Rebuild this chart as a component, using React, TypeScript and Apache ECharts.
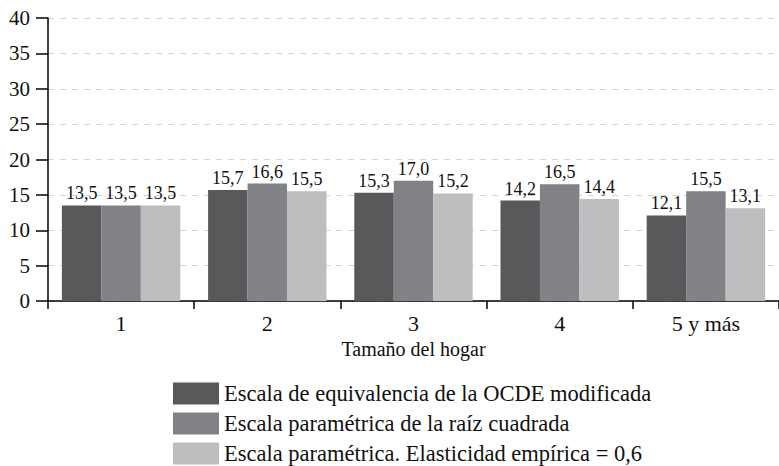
import React, { useEffect, useRef } from "react";
import * as echarts from "echarts";

const categories = ["1", "2", "3", "4", "5 y más"];
const seriesNames = [
  "Escala de equivalencia de la OCDE modificada",
  "Escala paramétrica de la raíz cuadrada",
  "Escala paramétrica. Elasticidad empírica = 0,6",
];
const ocde = [13.5, 15.7, 15.3, 14.2, 12.1];
const raiz = [13.5, 16.6, 17.0, 16.5, 15.5];
const elasticidad = [13.5, 15.5, 15.2, 14.4, 13.1];
const yTicks = [0, 5, 10, 15, 20, 25, 30, 35, 40];

const colors = ["#58595b", "#808285", "#bcbec0"];
const FONT = "'Liberation Serif', 'Times New Roman', Times, serif";

export default function App() {
  const ref = useRef<HTMLDivElement>(null);
  useEffect(() => {
    if (!ref.current) return;
    const chart = echarts.init(ref.current, undefined, { renderer: "svg" });
    const values = [ocde, raiz, elasticidad];
    chart.setOption({
      animation: false,
      textStyle: { fontFamily: FONT, color: "#111" },
      grid: { left: 48, right: -5, top: 18, bottom: 165, containLabel: false },
      legend: seriesNames.map((name, i) => ({
        orient: "vertical",
        left: 173,
        top: 382 + i * 30,
        padding: 0,
        itemWidth: 46,
        itemHeight: 22,
        itemTextGap: 14,
        icon: "rect",
        selectedMode: false,
        textStyle: { fontFamily: FONT, fontSize: 22.5, color: "#111" },
        data: [name],
      })),
      xAxis: {
        type: "category",
        data: categories,
        name: "Tamaño del hogar",
        nameLocation: "middle",
        nameGap: 33,
        nameTextStyle: { fontFamily: FONT, fontSize: 20, color: "#111" },
        axisLine: { lineStyle: { color: "#000", width: 1.5 } },
        axisTick: { show: true, length: 8, lineStyle: { color: "#000", width: 1.5 } },
        axisLabel: { fontFamily: FONT, fontSize: 22, color: "#111", margin: 11 },
      },
      yAxis: {
        type: "value",
        min: 0,
        max: 40,
        interval: 5,
        axisLine: { show: true, lineStyle: { color: "#000", width: 1.5 } },
        axisTick: { show: true, length: 12, lineStyle: { color: "#000", width: 1.5 } },
        axisLabel: {
          fontFamily: FONT,
          fontSize: 21,
          color: "#111",
          margin: 18,
          formatter: (v: number) => (yTicks.includes(v) ? String(v) : ""),
        },
        splitLine: {
          show: true,
          lineStyle: { color: "#d4d4d4", type: [6, 6], width: 1 },
        },
      },
      series: seriesNames.map((name, i) => ({
        name,
        type: "bar",
        data: values[i],
        barGap: "0%",
        barCategoryGap: "19%",
        itemStyle: { color: colors[i] },
        label: {
          show: true,
          position: "top",
          distance: 3,
          fontFamily: FONT,
          fontSize: 18,
          color: "#111",
          formatter: (p: any) => p.value.toFixed(1).replace(".", ","),
        },
      })),
    });
    return () => chart.dispose();
  }, []);
  return (
    <div
      ref={ref}
      style={{ position: "absolute", left: 0, top: 0, width: 779, height: 466 }}
    />
  );
}
